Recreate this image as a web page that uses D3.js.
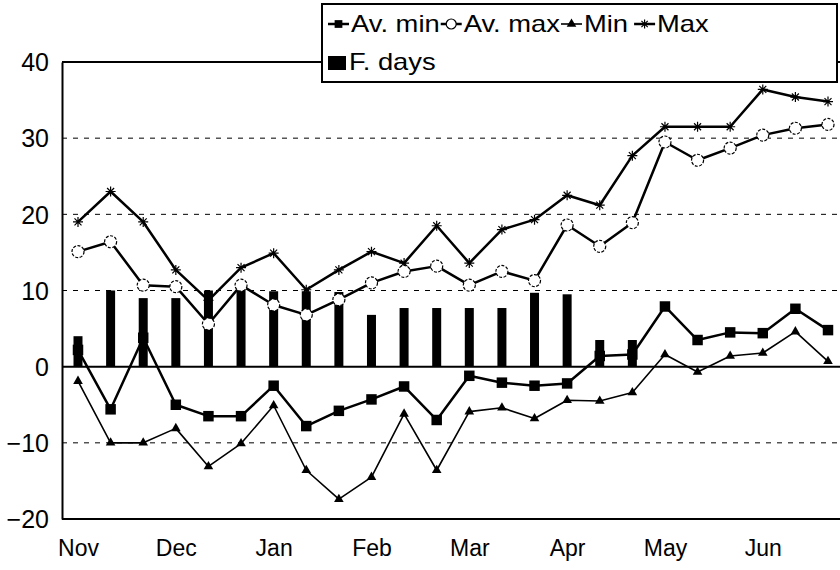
<!DOCTYPE html>
<html><head><meta charset="utf-8">
<script src="https://cdn.jsdelivr.net/npm/d3@7"></script>
<style>
html,body{margin:0;padding:0;background:#fff;}
svg{display:block;}
text{font-family:"Liberation Sans",Arial,sans-serif;fill:#000;}
</style></head>
<body>
<svg id="c" width="840" height="570"></svg>
<script>
const months = ["Nov","Dec","Jan","Feb","Mar","Apr","May","Jun"];
const yTicks = [-20,-10,0,10,20,30,40];
const gridTicks = [-10,10,20,30];
const avMin = [2.2,-5.6,3.8,-5.0,-6.5,-6.5,-2.5,-7.8,-5.8,-4.3,-2.6,-7.0,-1.2,-2.1,-2.5,-2.2,1.4,1.6,7.9,3.5,4.5,4.4,7.6,4.8];
const avMax = [15.1,16.4,10.7,10.5,5.6,10.7,8.1,6.8,8.8,11.0,12.5,13.2,10.7,12.5,11.3,18.6,15.8,18.9,29.5,27.1,28.7,30.4,31.3,31.8];
const minT  = [-1.9,-10.0,-10.0,-8.1,-13.1,-10.1,-5.1,-13.6,-17.4,-14.5,-6.2,-13.6,-5.9,-5.4,-6.8,-4.4,-4.5,-3.4,1.6,-0.7,1.4,1.8,4.6,0.7];
const maxT  = [19.0,23.0,19.0,12.7,8.7,13.0,14.9,10.1,12.7,15.1,13.6,18.5,13.6,18.0,19.3,22.5,21.2,27.7,31.5,31.5,31.5,36.4,35.4,34.8];
const fDays = [4.0,10.0,9.0,9.0,10.0,11.0,9.9,9.9,9.8,6.8,7.7,7.7,7.7,7.7,9.7,9.5,3.5,3.5];
const legendNames = ["Av. min","Av. max","Min","Max","F. days"];

const svg = d3.select("#c");
const L = 62, R = 840, T = 62, B = 519;
const idx = d3.range(avMin.length);
const x = d3.scalePoint().domain(idx).range([78, 828]);
const y = d3.scaleLinear().domain([-20,40]).range([B, T]);
const xm = d3.scalePoint().domain(months).range([x(0), x(21)]);

// gridlines
svg.append("g").selectAll("line").data(gridTicks).join("line")
  .attr("x1", L).attr("x2", R).attr("y1", d=>y(d)).attr("y2", d=>y(d))
  .attr("stroke","#000").attr("stroke-width",1).attr("stroke-dasharray","5,6");

// bars
svg.append("g").selectAll("rect").data(fDays).join("rect")
  .attr("x",(d,i)=>x(i)-4.5).attr("width",9)
  .attr("y",d=>y(Math.max(0,d))).attr("height",d=>Math.abs(y(d)-y(0)))
  .attr("fill","#000");

// frame lines
svg.append("line").attr("x1",L).attr("x2",R).attr("y1",y(0)).attr("y2",y(0)).attr("stroke","#000").attr("stroke-width",2);
svg.append("line").attr("x1",L).attr("x2",R).attr("y1",B).attr("y2",B).attr("stroke","#000").attr("stroke-width",2);
svg.append("line").attr("x1",L).attr("x2",R).attr("y1",T).attr("y2",T).attr("stroke","#000").attr("stroke-width",2);

// axes
const ya = svg.append("g").attr("transform",`translate(${L},0)`)
  .call(d3.axisLeft(y).tickValues(yTicks).tickSize(0).tickPadding(13).tickFormat(d3.format("d")));
ya.select(".domain").attr("stroke","#000").attr("stroke-width",2);
ya.selectAll("text").style("font-size","25px").attr("dy","0.35em");

const xa = svg.append("g").attr("transform",`translate(0,${B})`)
  .call(d3.axisBottom(xm).tickSize(0).tickPadding(21));
xa.select(".domain").remove();
xa.selectAll("text").style("font-size","23px");

const line = d3.line().x((d,i)=>x(i)).y(d=>y(d));

function starPath(s){ // asterisk-like
  return `M${-s},0L${s},0M0,${-s}L0,${s}M${-s*0.7},${-s*0.7}L${s*0.7},${s*0.7}M${-s*0.7},${s*0.7}L${s*0.7},${-s*0.7}`;
}
const tri = d3.symbol().type(d3.symbolTriangle).size(40)();
const sq = d3.symbol().type(d3.symbolSquare).size(110)();
const sqSmall = d3.symbol().type(d3.symbolSquare).size(60)();

function drawSeries(vals, sw, marker){
  svg.append("path").datum(vals).attr("d",line).attr("fill","none").attr("stroke","#000").attr("stroke-width",sw).attr("stroke-linejoin","round");
  const g = svg.append("g");
  vals.forEach((v,i)=>{
    const m = g.append("g").attr("transform",`translate(${x(i)},${y(v)})`);
    marker(m);
  });
}
const mSquare = g=>g.append("path").attr("d",sq).attr("fill","#000");
const mCircle = g=>g.append("circle").attr("r",6).attr("fill","#fff").attr("stroke","#000").attr("stroke-width",1.2).attr("stroke-dasharray","3,1.5");
const mTri = g=>g.append("path").attr("d",tri).attr("fill","#000");
const mStar = g=>g.append("path").attr("d",starPath(5)).attr("stroke","#000").attr("stroke-width",1.2).attr("fill","none");

drawSeries(maxT, 2.5, mStar);
drawSeries(avMax, 2.5, mCircle);
drawSeries(minT, 1.6, mTri);
drawSeries(avMin, 2.5, mSquare);

// legend
const lg = svg.append("g");
lg.append("rect").attr("x",322).attr("y",4).attr("width",515).attr("height",78)
  .attr("fill","#fff").attr("stroke","#000").attr("stroke-width",2);
const lMarkers = [
  g=>g.append("path").attr("d",sqSmall).attr("fill","#000"),
  g=>g.append("circle").attr("r",5).attr("fill","#fff").attr("stroke","#000").attr("stroke-width",1.2),
  mTri,
  g=>g.append("path").attr("d",starPath(4.5)).attr("stroke","#000").attr("stroke-width",1.2).attr("fill","none")
];
const stretch = 1.14;
let cx = 328;
legendNames.slice(0,4).forEach((n,k)=>{
  const sy = 24;
  lg.append("line").attr("x1",cx).attr("x2",cx+21).attr("y1",sy).attr("y2",sy).attr("stroke","#000").attr("stroke-width",k===2?1.6:2.5);
  const m = lg.append("g").attr("transform",`translate(${cx+10.5},${sy})`);
  lMarkers[k](m);
  const t = lg.append("text").attr("x",cx+23).attr("y",32).style("font-size","24px").text(n);
  const w = t.node().getComputedTextLength()*stretch;
  t.attr("textLength", w).attr("lengthAdjust","spacingAndGlyphs");
  cx = cx + 23 + w + (k===2?6:1);
});
lg.append("rect").attr("x",328).attr("y",56).attr("width",18).attr("height",14).attr("fill","#000");
const t5 = lg.append("text").attr("x",349).attr("y",70).style("font-size","24px").text(legendNames[4]);
t5.attr("textLength", t5.node().getComputedTextLength()*stretch).attr("lengthAdjust","spacingAndGlyphs");
</script>
</body></html>
